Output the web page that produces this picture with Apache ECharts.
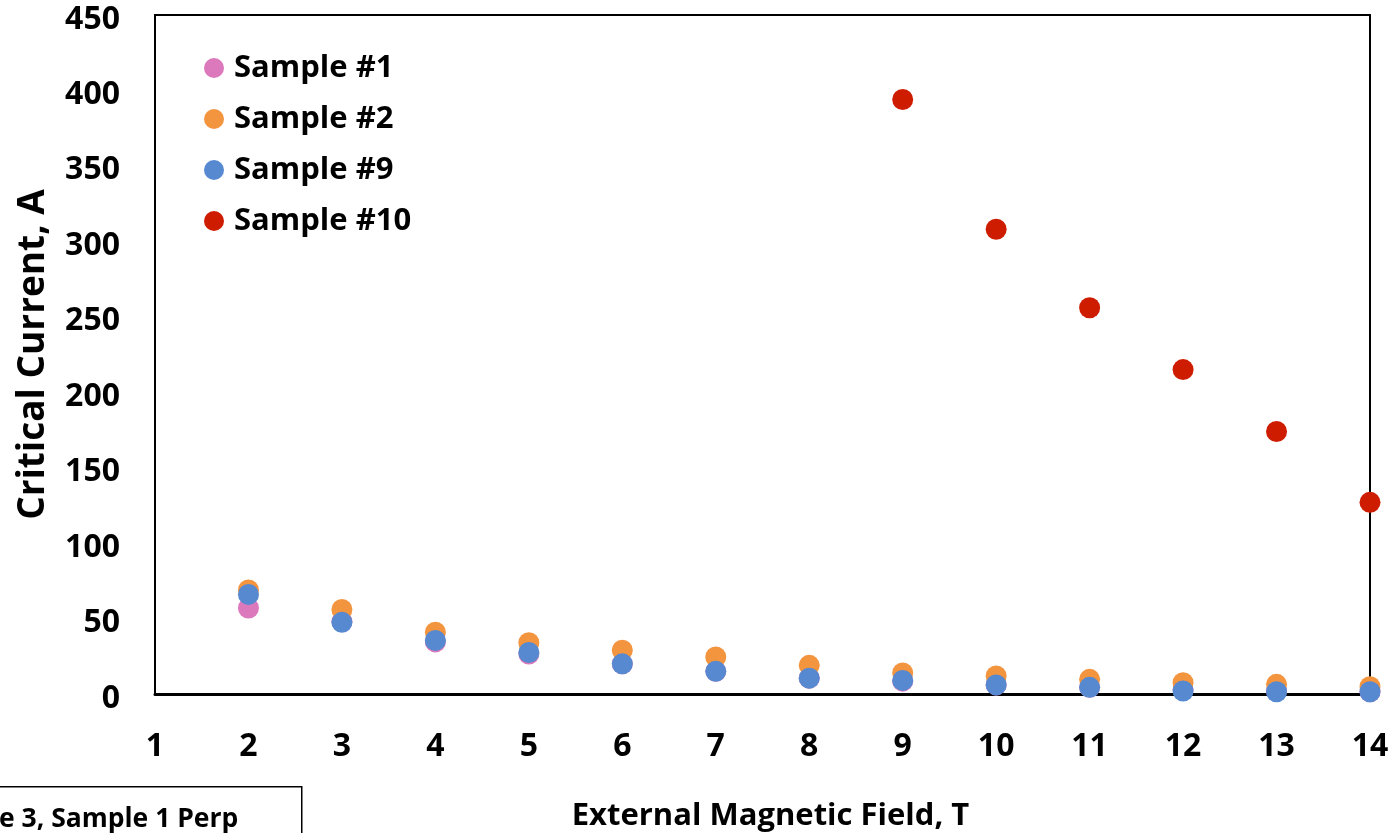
<!DOCTYPE html>
<html>
<head>
<meta charset="utf-8">
<script src="https://cdn.jsdelivr.net/npm/echarts@6/dist/echarts.min.js"></script>
<style>
  html, body { margin: 0; padding: 0; background: #fff; }
  #chart { width: 1396px; height: 833px; }
</style>
</head>
<body>
<div id="chart"></div>
<script>
// External magnetic field (T)
const fieldT = [2, 3, 4, 5, 6, 7, 8, 9, 10, 11, 12, 13, 14];
const sample10Field = [9, 10, 11, 12, 13, 14];

// Critical current (A) for each sample
const sample1 = [57, 48, 34.5, 26.5, 20, 15, 10.5, 8.5, 6, 4.5, 3, 2, 1.5];
const sample2 = [69, 56, 41, 34, 29, 24.5, 19, 14, 12, 9.7, 7.5, 6.4, 4.8];
const sample9 = [66, 47.5, 35.5, 27.5, 20, 15, 10.5, 9, 6, 4.4, 2, 1.5, 1.5];
const sample10 = [394, 308, 256, 215, 174, 127];

const seriesNames = ['Sample #1', 'Sample #2', 'Sample #9', 'Sample #10'];
const seriesColors = ['#DC78BC', '#F3943F', '#5689D0', '#CE1C00'];

const xTicks = { min: 1, max: 14, step: 1 };
const yTicks = { min: 0, max: 450, step: 50 };

const FONT = '"Open Sans", "Liberation Sans", sans-serif';

function pairs(xs, ys) {
  return xs.map((x, i) => [x, ys[i]]);
}

const chart = echarts.init(document.getElementById('chart'));

const seriesData = [
  pairs(fieldT, sample1),
  pairs(fieldT, sample2),
  pairs(fieldT, sample9),
  pairs(sample10Field, sample10)
];

chart.setOption({
  animation: false,
  backgroundColor: '#fff',
  grid: {
    left: 155, right: 26, top: 15, bottom: 139,
    show: true, borderColor: '#000', borderWidth: 2,
    containLabel: false,
    outerBoundsMode: 'none'
  },
  legend: {
    orient: 'vertical',
    left: 199, top: 47,
    itemWidth: 20, itemHeight: 20,
    itemGap: 19,
    icon: 'circle',
    data: seriesNames,
    textStyle: {
      fontFamily: FONT, fontWeight: 'bold', fontSize: 31,
      color: '#000', lineHeight: 32, padding: [0, 0, 0, 5]
    }
  },
  xAxis: {
    type: 'value',
    min: xTicks.min, max: xTicks.max, interval: xTicks.step,
    name: 'External Magnetic Field, T',
    nameLocation: 'middle',
    nameGap: 107,
    nameTextStyle: {
      fontFamily: FONT, fontWeight: 'bold', fontSize: 31, color: '#000',
      padding: [0, 0, 0, 16]
    },
    axisLine: { onZero: false, lineStyle: { color: '#000', width: 3 } },
    axisTick: { show: false },
    splitLine: { show: false },
    axisLabel: {
      margin: 37, fontFamily: FONT, fontWeight: 'bold', fontSize: 32, color: '#000'
    }
  },
  yAxis: {
    type: 'value',
    min: yTicks.min, max: yTicks.max, interval: yTicks.step,
    name: 'Critical Current, A',
    nameLocation: 'middle',
    nameGap: 103,
    nameTextStyle: { fontFamily: FONT, fontWeight: 'bold', fontSize: 37, color: '#000' },
    axisLine: { show: true, lineStyle: { color: '#000', width: 2 } },
    axisTick: { show: false },
    splitLine: { show: false },
    axisLabel: {
      margin: 35,
      formatter: '{v|{value}}',
      rich: {
        v: {
          fontFamily: FONT, fontWeight: 'bold', fontSize: 32, color: '#000',
          lineHeight: 32, padding: [9, 0, 0, 0]
        }
      }
    }
  },
  series: seriesNames.map((name, i) => ({
    name: name,
    type: 'scatter',
    data: seriesData[i],
    symbol: 'circle',
    symbolSize: 21,
    itemStyle: { color: seriesColors[i], opacity: 1 },
    emphasis: { disabled: true },
    z: 2 + i
  })),
  graphic: [
    {
      type: 'rect',
      left: -4, top: 786,
      shape: { width: 305, height: 60 },
      style: { fill: '#fff', stroke: '#000', lineWidth: 1.5 },
      z: 10
    },
    {
      type: 'text',
      left: -1, top: 806,
      style: {
        text: 'e 3, Sample 1 Perp',
        fontFamily: FONT, fontWeight: 'bold', fontSize: 26.5, fill: '#000'
      },
      z: 11
    }
  ]
});
</script>
</body>
</html>
